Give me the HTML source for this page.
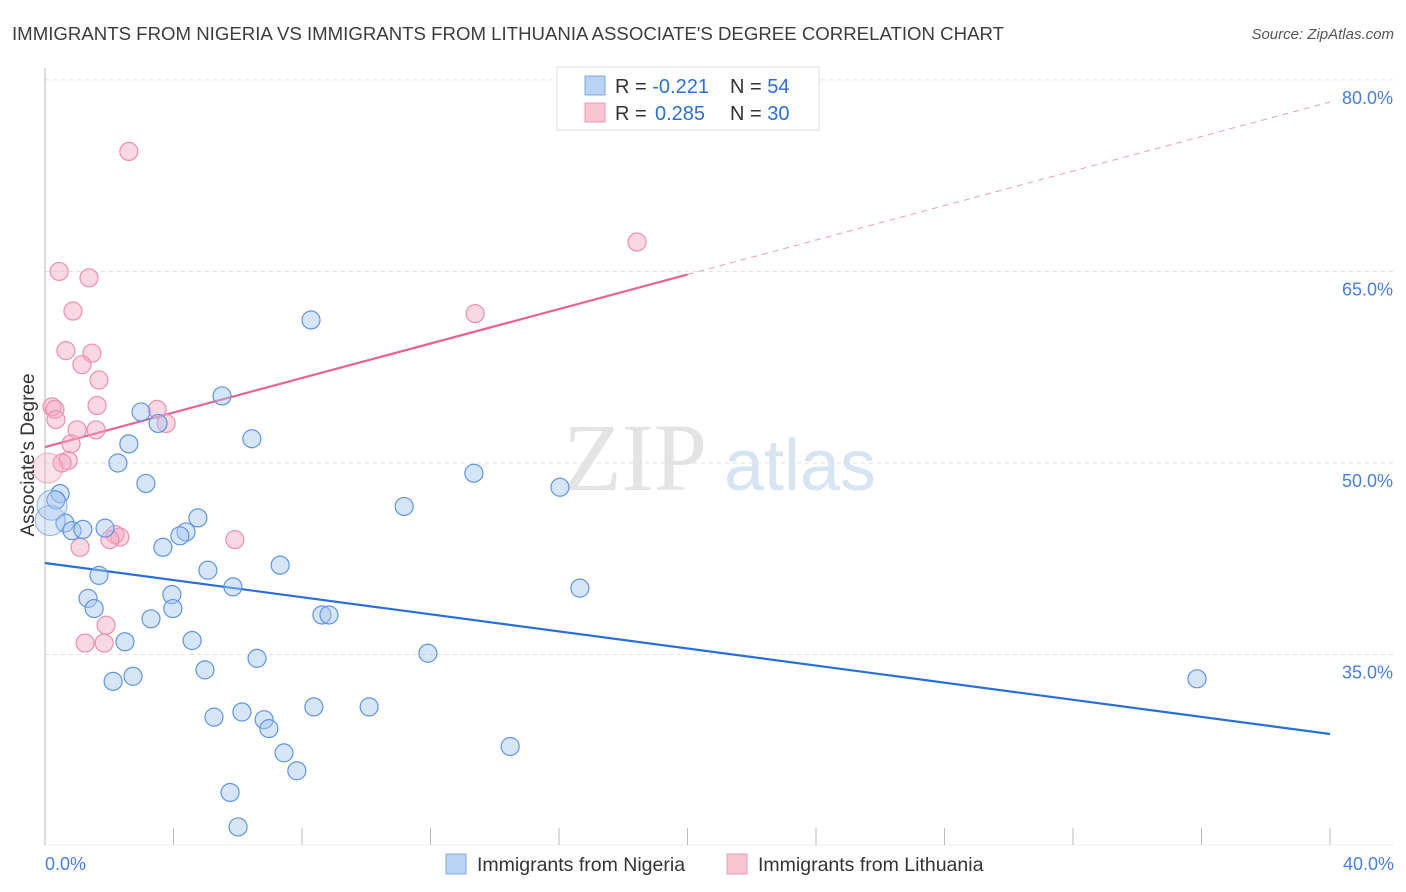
<!DOCTYPE html>
<html><head><meta charset="utf-8"><style>
body{margin:0;background:#fff;font-family:"Liberation Sans",sans-serif}
</style></head><body>
<svg id="chart" width="1406" height="892" xmlns="http://www.w3.org/2000/svg" style="display:block;font-family:'Liberation Sans',sans-serif">
<text x="12" y="40" font-size="18" fill="#3c3c3c" textLength="992" lengthAdjust="spacingAndGlyphs">IMMIGRANTS FROM NIGERIA VS IMMIGRANTS FROM LITHUANIA ASSOCIATE'S DEGREE CORRELATION CHART</text>
<text x="1394" y="39" font-size="15" fill="#555" text-anchor="end" font-style="italic">Source: ZipAtlas.com</text>
<g><text x="635" y="490" font-size="96" fill="#e4e4e4" font-family="Liberation Serif,serif" text-anchor="middle">ZIP</text><text x="800" y="490" font-size="72" fill="#d6e4f4" text-anchor="middle">atlas</text></g>
<g id="grid"></g><g id="axes"></g><g id="lines"></g><g id="points"></g>
<text transform="translate(34,455) rotate(-90)" font-size="19" fill="#333" text-anchor="middle">Associate's Degree</text>
<text x="45" y="870" font-size="18" fill="#4a7fd4">0.0%</text>
<text x="1394" y="870" font-size="18" fill="#4a7fd4" text-anchor="end">40.0%</text>
<g>
<rect x="557" y="67" width="262" height="63" fill="#fff" stroke="#ddd"/>
<rect x="585" y="76" width="20" height="19" fill="#b9d3f5" stroke="#7fa8e0"/>
<rect x="585" y="103" width="20" height="19" fill="#f8c4d4" stroke="#ee9ab5"/>
<text x="615" y="93" font-size="20" fill="#333">R = <tspan fill="#2f6fd1">-0.221</tspan><tspan x="730">N = </tspan><tspan fill="#2f6fd1">54</tspan></text>
<text x="615" y="120" font-size="20" fill="#333">R = <tspan fill="#2f6fd1" x="655">0.285</tspan><tspan x="730">N = </tspan><tspan fill="#2f6fd1">30</tspan></text>
</g>
<g>
<rect x="446" y="854" width="20" height="20" fill="#b9d3f5" stroke="#7fa8e0"/>
<text x="477" y="871" font-size="19.5" fill="#333">Immigrants from Nigeria</text>
<rect x="727" y="854" width="20" height="20" fill="#f8c4d4" stroke="#ee9ab5"/>
<text x="758" y="871" font-size="19.5" fill="#333">Immigrants from Lithuania</text>
</g>
</svg>
<script>
const yTicks=[35,50,65,80];
const yTickLabels=["35.0%","50.0%","65.0%","80.0%"];
const xTicks=[0,4,8,12,16,20,24,28,32,36,40];
const nigeriaX=[8.28,5.51,2.99,3.52,6.44,2.61,2.27,3.14,13.35,16.03,11.18,0.47,0.34,0.62,0.84,1.18,1.87,4.76,4.39,4.20,3.67,5.07,7.32,1.68,5.85,16.65,1.34,3.95,1.53,3.98,3.30,8.62,8.84,4.58,2.49,6.60,11.92,4.98,2.74,2.12,35.86,8.37,10.09,6.13,5.26,6.82,6.97,7.44,14.48,7.84,5.76,6.01,0.16,0.22];
const nigeriaY=[61.2,55.25,54.0,53.1,51.9,51.5,50.0,48.4,49.2,48.1,46.6,47.6,47.1,45.3,44.7,44.8,44.9,45.7,44.6,44.3,43.4,41.6,42.0,41.2,40.3,40.2,39.4,39.7,38.6,38.6,37.8,38.1,38.1,36.1,36.0,34.7,35.1,33.8,33.3,32.9,33.1,30.9,30.9,30.5,30.1,29.9,29.2,27.3,27.8,25.9,24.2,21.5,45.5,46.7];
const lithX=[2.61,18.43,0.44,1.37,0.87,13.39,0.65,1.46,1.15,1.68,1.62,0.22,0.31,3.49,0.34,3.77,1.59,1.00,0.81,0.72,0.53,0.09,2.18,2.33,5.91,1.09,1.90,1.25,1.84,2.02];
const lithY=[74.4,67.3,65.0,64.5,61.9,61.7,58.8,58.6,57.7,56.5,54.5,54.4,54.2,54.2,53.4,53.1,52.6,52.6,51.5,50.2,50.0,49.6,44.4,44.2,44.0,43.4,37.3,35.9,35.9,44.0];
const nigeriaTrend=[42.17,28.78];
const lithTrend=[51.25,78.27];
const X=v=>45+v/40*1285;
const Y=v=>463-(v-50)*12.77;
const NS="http://www.w3.org/2000/svg";
function mk(p,t,a){const e=document.createElementNS(NS,t);for(const k in a)e.setAttribute(k,a[k]);p.appendChild(e);return e;}
const grid=document.getElementById('grid'),axes=document.getElementById('axes'),lines=document.getElementById('lines'),pts=document.getElementById('points');
yTicks.forEach((t,i)=>{
 const g=mk(grid,'line',{x1:45,x2:1394,y1:Y(t),y2:Y(t),stroke:'#e2e2e2','stroke-dasharray':'4,4'});
 
 
 const l=mk(grid,'text',{x:1393,y:Y(t)+24,'font-size':18,fill:'#4a7fd4','text-anchor':'end'});
 l.textContent=yTickLabels[i];
 
 
});
const ya=mk(axes,'line',{x1:45,x2:45,y1:68,y2:845,stroke:'#bbb'});


const xa=mk(axes,'line',{x1:45,x2:1394,y1:845,y2:845,stroke:'#eee'});


xTicks.forEach(t=>{
 const k=mk(axes,'line',{x1:X(t),x2:X(t),y1:828,y2:845,stroke:'#bbb'});
 
 
});
const bl=mk(lines,'line',{x1:X(0),y1:Y(nigeriaTrend[0]),x2:X(40),y2:Y(nigeriaTrend[1]),stroke:'#2a6fd6','stroke-width':2.2});


const mid=lithTrend[0]+(lithTrend[1]-lithTrend[0])*0.5;
const pl=mk(lines,'line',{x1:X(0),y1:Y(lithTrend[0]),x2:X(20),y2:Y(mid),stroke:'#e8648e','stroke-width':2.2});


const pd=mk(lines,'line',{x1:X(20),y1:Y(mid),x2:X(40),y2:Y(lithTrend[1]),stroke:'#e8a0b8','stroke-width':1,'stroke-dasharray':'6,5'});


function draw(xs,ys,fill,stroke,name,bigIdx){
 xs.forEach((x,i)=>{
  const big=bigIdx.includes(i);
  const c=mk(pts,'circle',{cx:X(x),cy:Y(ys[i]),r:big?15:9,fill:fill,'fill-opacity':big?0.35:0.45,stroke:stroke,'stroke-width':1.2,'stroke-opacity':big?0.6:1});
  
  
 });
}
draw(lithX,lithY,'#f4a9c0','#ec8fae','lithuania-point',[21]);
draw(nigeriaX,nigeriaY,'#a6c6f0','#5f95e0','nigeria-point',[52,53]);
</script>
</body></html>
